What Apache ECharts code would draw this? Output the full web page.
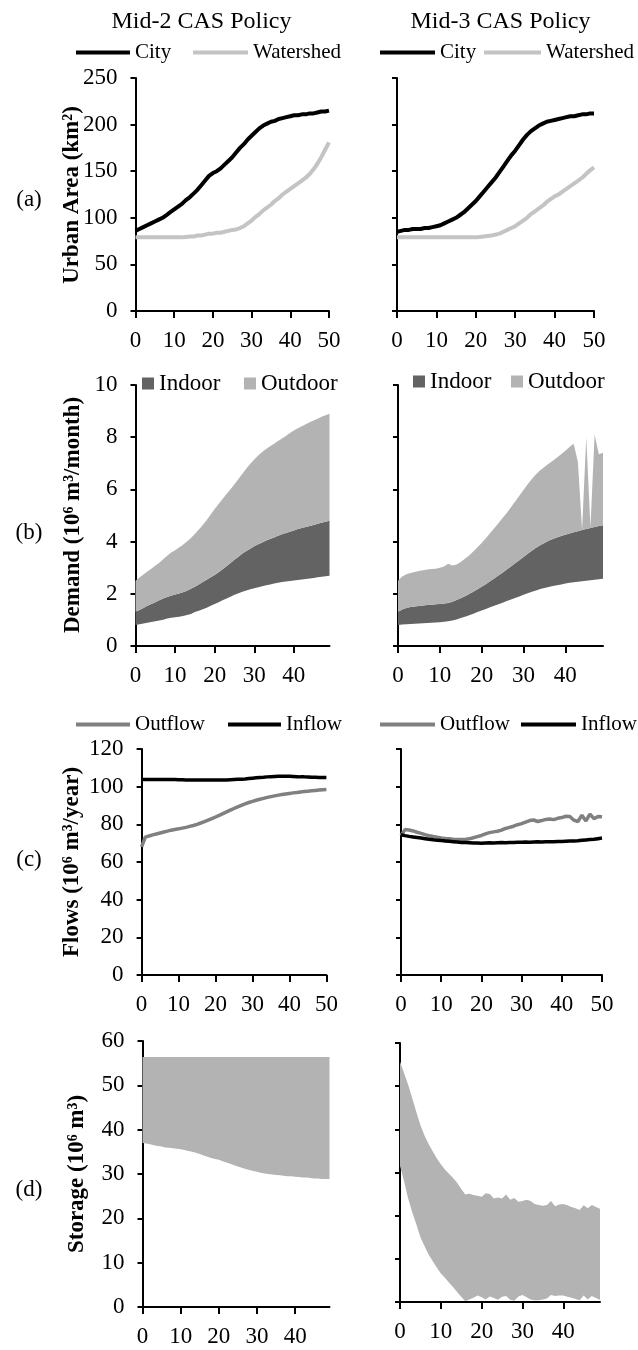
<!DOCTYPE html>
<html><head><meta charset="utf-8">
<script src="https://cdn.jsdelivr.net/npm/echarts@6/dist/echarts.min.js"></script>
<style>html,body{margin:0;padding:0;background:#fff}#c{width:638px;height:1350px}</style>
</head><body><div id="c"></div>
<script>
// ---------- text ----------
const panelTitles = ['Mid-2 CAS Policy', 'Mid-3 CAS Policy'];
const panelLetters = ['(a)', '(b)', '(c)', '(d)'];
const yNames = ['Urban Area (km²)', 'Demand (10⁶ m³/month)', 'Flows (10⁶ m³/year)', 'Storage (10⁶ m³)'];
const years51 = Array.from({length: 51}, (_, i) => String(i));   // year categories 0..50
const years50 = years51.slice(0, 50);                              // year categories 0..49
const yRanges = [[0, 250, 50], [0, 10, 2], [0, 120, 20], [0, 60, 10]];

// ---------- (a) urban area, years 0..50 ----------
const cityL = [86,88,90,92,94,96,98,100,103,106, 109,112,115,119,122,126,130,135,140,145, 148,150,153,157,161,165,170,175,179,184, 188,192,196,199,201,203,204,206,207,208, 209,210,210,211,211,212,212,213,214,214,215];
const watershedL = [79,79,79,79,79,79,79,79,79,79, 79,79,79,79.5,80,80,81,81,82,83, 83,84,84,85,86,87,87.5,89,91,94, 97,101,104,108,111,114,118,121,125,128, 131,134,137,140,143,147,152,158,165,173,181];
const cityR = [85,86,87,87,88,88,88,89,89,90, 91,92,94,96,98,100,103,106,110,114, 118,123,128,133,138,143,149,155,161,167, 172,178,184,189,193,196,199,201,203,204, 205,206,207,208,209,209,210,211,211,212,212];
const watershedR = [79,79,79,79,79,79,79,79,79,79, 79,79,79,79,79,79,79,79,79,79, 79,79.5,80,80.5,81,82,83,85,87,89, 91,94,97,100,104,107,110,113,117,120, 123,125,128,131,134,137,140,143,147,151,154];

// ---------- (b) demand, years 0..49 (band boundaries) ----------
const demandLowL = [0.80,0.83,0.86,0.89,0.92,0.95,0.98,1.01,1.05,1.08, 1.10,1.12,1.15,1.19,1.23,1.30,1.35,1.41,1.47,1.54, 1.61,1.68,1.75,1.82,1.89,1.96,2.02,2.08,2.13,2.17, 2.21,2.25,2.29,2.33,2.36,2.39,2.42,2.45,2.47,2.49, 2.51,2.53,2.55,2.57,2.59,2.61,2.63,2.65,2.67,2.69];
const indoorTopL = [1.30,1.38,1.46,1.54,1.61,1.68,1.75,1.82,1.88,1.93, 1.97,2.01,2.06,2.12,2.19,2.27,2.36,2.45,2.54,2.63, 2.72,2.83,2.94,3.06,3.18,3.30,3.42,3.54,3.64,3.73, 3.82,3.90,3.97,4.04,4.10,4.16,4.22,4.28,4.33,4.38, 4.43,4.48,4.52,4.56,4.60,4.64,4.68,4.72,4.76,4.80];
const outdoorTopL = [2.50,2.62,2.74,2.85,2.96,3.07,3.19,3.32,3.46,3.58, 3.67,3.77,3.88,4.00,4.14,4.29,4.46,4.64,4.83,5.04, 5.25,5.44,5.63,5.82,6.01,6.20,6.40,6.60,6.80,6.98, 7.15,7.30,7.43,7.55,7.65,7.75,7.85,7.95,8.05,8.16, 8.26,8.34,8.42,8.50,8.57,8.64,8.71,8.78,8.84,8.90];
const demandLowR = [0.80,0.82,0.83,0.84,0.85,0.86,0.87,0.88,0.89,0.90, 0.91,0.93,0.95,0.98,1.02,1.07,1.12,1.18,1.24,1.30, 1.36,1.42,1.48,1.54,1.60,1.66,1.72,1.78,1.84,1.90, 1.96,2.02,2.08,2.13,2.18,2.22,2.26,2.30,2.33,2.36, 2.39,2.42,2.44,2.46,2.48,2.50,2.52,2.54,2.56,2.58];
const indoorTopR = [1.30,1.40,1.46,1.49,1.51,1.53,1.55,1.57,1.58,1.60, 1.61,1.63,1.65,1.70,1.76,1.83,1.91,1.99,2.08,2.17, 2.27,2.37,2.48,2.59,2.70,2.81,2.93,3.05,3.17,3.29, 3.41,3.53,3.65,3.76,3.86,3.95,4.03,4.10,4.16,4.21, 4.26,4.31,4.36,4.40,4.44,4.48,4.52,4.56,4.60,4.63];
const outdoorTopR = [2.50,2.66,2.75,2.80,2.84,2.87,2.90,2.93,2.95,2.96, 3.00,3.05,3.15,3.08,3.12,3.22,3.34,3.47,3.62,3.78, 3.95,4.13,4.32,4.51,4.70,4.90,5.10,5.32,5.54,5.76, 5.98,6.20,6.40,6.58,6.73,6.86,6.98,7.10,7.22,7.35, 7.48,7.62,7.75,7.05,4.45,8.00,4.55,8.10,7.35,7.40];

// ---------- (c) flows, years 0..50 ----------
const outflowL = [68.0,73.2,73.8,74.4,74.9,75.4,75.9,76.4,76.9,77.3, 77.6,78.0,78.4,78.9,79.4,80.0,80.7,81.4,82.2,83.0, 83.9,84.8,85.7,86.6,87.5,88.4,89.3,90.1,90.9,91.6, 92.2,92.8,93.3,93.8,94.3,94.7,95.1,95.5,95.8,96.1, 96.4,96.7,96.9,97.2,97.4,97.6,97.8,98.0,98.2,98.4,98.5];
const inflowL = [103.8,103.8,103.8,103.8,103.8,103.8,103.8,103.8,103.8,103.8, 103.7,103.7,103.6,103.6,103.6,103.6,103.6,103.6,103.6,103.6, 103.6,103.6,103.6,103.6,103.7,103.8,103.9,104.0,104.1,104.3, 104.5,104.7,104.9,105.0,105.2,105.3,105.4,105.5,105.5,105.5, 105.5,105.4,105.3,105.2,105.2,105.1,105.0,105.0,104.9,104.9,104.9];
const outflowR = [74.0,77.2,77.0,76.5,75.8,75.2,74.5,74.0,73.5,73.2, 72.8,72.5,72.3,72.1,72.0,71.9,72.0,72.3,72.9,73.5, 74.1,74.9,75.6,76.0,76.3,76.9,77.8,78.4,79.0,79.8, 80.4,81.2,82.0,82.3,81.5,82.0,82.6,82.8,82.5,83.2, 83.6,84.3,84.2,82.2,81.5,84.8,81.8,85.4,83.0,84.2,84.0];
const inflowR = [74.5,74.0,73.6,73.3,73.0,72.7,72.4,72.1,71.8,71.6, 71.4,71.2,71.0,70.8,70.6,70.4,70.3,70.2,70.1,70.1, 70.0,70.1,70.2,70.1,70.2,70.3,70.2,70.4,70.3,70.5, 70.5,70.6,70.5,70.6,70.7,70.6,70.7,70.8,70.8,70.9, 70.9,71.0,71.1,71.2,71.3,71.5,71.7,71.9,72.1,72.4,72.7];

// ---------- (d) storage range, years 0..49 ----------
const storageHighL = [56.4,56.4,56.4,56.4,56.4,56.4,56.4,56.4,56.4,56.4, 56.4,56.4,56.4,56.4,56.4,56.4,56.4,56.4,56.4,56.4, 56.4,56.4,56.4,56.4,56.4,56.4,56.4,56.4,56.4,56.4, 56.4,56.4,56.4,56.4,56.4,56.4,56.4,56.4,56.4,56.4, 56.4,56.4,56.4,56.4,56.4,56.4,56.4,56.4,56.4,56.4];
const storageLowL = [37.0,36.9,36.7,36.5,36.3,36.2,36.0,35.9,35.8,35.7, 35.6,35.4,35.2,35.0,34.8,34.5,34.2,33.9,33.6,33.4, 33.2,32.9,32.6,32.3,32.0,31.7,31.4,31.1,30.9,30.7, 30.5,30.3,30.1,30.0,29.9,29.8,29.7,29.6,29.5,29.5, 29.4,29.3,29.2,29.2,29.1,29.0,29.0,28.9,28.9,28.9];
const storageHighR = [55.7,53.0,50.3,47.2,44.0,41.0,38.6,36.6,34.9,33.3, 31.9,30.7,29.7,28.7,27.6,26.2,24.9,25.1,24.8,24.6, 24.4,25.2,25.0,24.0,24.2,24.0,24.9,23.7,24.1,23.2, 23.4,23.7,23.4,22.7,22.5,22.3,22.5,23.4,22.2,22.6, 22.7,22.4,22.0,21.7,21.3,22.4,21.7,22.5,22.0,21.6];
const storageLowR = [31.5,28.0,24.0,20.8,18.0,15.0,13.0,11.0,9.5,8.0, 6.6,5.6,4.5,3.5,2.3,1.2,0.2,0.6,1.0,1.5, 1.1,0.6,1.3,0.9,0.5,1.2,1.4,0.5,0.3,1.3, 1.6,1.1,0.6,0.4,0.4,0.6,0.8,1.6,1.4,1.5, 1.5,1.2,1.0,0.7,0.4,1.5,0.6,1.4,0.9,0.5];

// ---------- layout & style ----------
const FONT = '"Liberation Serif","Times New Roman",serif';
const C_BLACK = '#000000', C_WATERSHED = '#c4c4c4', C_OUTFLOW = '#808080',
      C_INDOOR = '#636363', C_OUTDOOR = '#b3b3b3', C_STORAGE = '#b3b3b3';

const gridBoxes = [
  {left: 135.5, top: 78, width: 193.5, height: 233},
  {left: 397, top: 78, width: 197, height: 233},
  {left: 135.5, top: 385, width: 194, height: 261},
  {left: 398, top: 385, width: 205, height: 261},
  {left: 141.6, top: 749, width: 184.8, height: 226},
  {left: 401, top: 749, width: 201, height: 226},
  {left: 142.5, top: 1041, width: 187, height: 266},
  {left: 400, top: 1043, width: 200, height: 259}
];

const diff = (top, bot) => top.map((v, i) => Math.max(0, +(v - bot[i]).toFixed(3)));

const grid = gridBoxes.map(g => Object.assign({containLabel: false, outerBoundsMode: 'none'}, g));

const xAxis = gridBoxes.map((g, i) => {
  const panel = i >> 1;
  const full = (panel === 0 || panel === 2);
  return {
    type: 'category', gridIndex: i, data: full ? years51 : years50, boundaryGap: false,
    axisLine: {show: true, onZero: false, lineStyle: {color: '#000', width: 2}},
    axisTick: {show: true, inside: false, length: 7, interval: 9, lineStyle: {color: '#000', width: 2}},
    splitLine: {show: false},
    axisLabel: {show: true, interval: 9, color: '#000', fontFamily: FONT, fontSize: 23, margin: 18, hideOverlap: false}
  };
});

const yAxis = gridBoxes.map((g, i) => {
  const r = yRanges[i >> 1];
  return {
    type: 'value', gridIndex: i, min: r[0], max: r[1], interval: r[2],
    axisLine: {show: true, lineStyle: {color: '#000', width: 2}},
    axisTick: {show: true, inside: false, length: 5, lineStyle: {color: '#000', width: 2}},
    splitLine: {show: false},
    axisLabel: {show: i % 2 === 0, color: '#000', fontFamily: FONT, fontSize: 23, margin: 18, hideOverlap: false}
  };
});

function lineS(name, data, gi, color, w) {
  return {type: 'line', name, data, xAxisIndex: gi, yAxisIndex: gi,
    symbol: 'none', showSymbol: false, color, lineStyle: {color, width: w},
    silent: true, animation: false, clip: true};
}
function areaS(name, data, gi, color, stack, visible) {
  return {type: 'line', name, data, xAxisIndex: gi, yAxisIndex: gi, stack,
    symbol: 'none', showSymbol: false, color: color,
    lineStyle: {width: 0, opacity: 0},
    areaStyle: {color: color, opacity: visible ? 1 : 0},
    silent: true, animation: false, clip: true};
}

const series = [
  lineS('Watershed', watershedL, 0, C_WATERSHED, 4),
  lineS('City', cityL, 0, C_BLACK, 4),
  lineS('Watershed', watershedR, 1, C_WATERSHED, 4),
  lineS('City', cityR, 1, C_BLACK, 4),

  areaS('baseBL', demandLowL, 2, '#ffffff', 'bL', false),
  areaS('Indoor', diff(indoorTopL, demandLowL), 2, C_INDOOR, 'bL', true),
  areaS('Outdoor', diff(outdoorTopL, indoorTopL), 2, C_OUTDOOR, 'bL', true),
  areaS('baseBR', demandLowR, 3, '#ffffff', 'bR', false),
  areaS('Indoor', diff(indoorTopR, demandLowR), 3, C_INDOOR, 'bR', true),
  areaS('Outdoor', diff(outdoorTopR, indoorTopR), 3, C_OUTDOOR, 'bR', true),

  lineS('Outflow', outflowL, 4, C_OUTFLOW, 3.5),
  lineS('Inflow', inflowL, 4, C_BLACK, 3.5),
  lineS('Outflow', outflowR, 5, C_OUTFLOW, 3.5),
  lineS('Inflow', inflowR, 5, C_BLACK, 3.5),

  areaS('baseDL', storageLowL, 6, '#ffffff', 'dL', false),
  areaS('StorageL', diff(storageHighL, storageLowL), 6, C_STORAGE, 'dL', true),
  areaS('baseDR', storageLowR, 7, '#ffffff', 'dR', false),
  areaS('StorageR', diff(storageHighR, storageLowR), 7, C_STORAGE, 'dR', true)
];

function leg(name, left, top, w, h, fs) {
  return {data: [name], left, top, icon: 'rect', itemWidth: w, itemHeight: h,
    padding: 0, itemGap: 0, selectedMode: false,
    textStyle: {fontFamily: FONT, fontSize: fs, color: '#000'}};
}
const legend = [
  leg('City', 76, 42, 54, 4, 21), leg('Watershed', 193, 42, 55, 4, 21),
  leg('City', 380, 42, 55, 4, 21), leg('Watershed', 484, 42, 57, 4, 21),
  leg('Indoor', 142, 372, 12, 12, 23), leg('Outdoor', 244, 372, 12, 12, 23),
  leg('Indoor', 413, 370, 12, 12, 23), leg('Outdoor', 511, 370, 12, 12, 23),
  leg('Outflow', 76, 714, 54, 4, 21), leg('Inflow', 228, 714, 53, 4, 21),
  leg('Outflow', 380, 714, 55, 4, 21), leg('Inflow', 521, 714, 55, 4, 21)
];

function txt(text, x, y, font, rot) {
  return {type: 'text', x, y, rotation: rot || 0, silent: true,
    style: {text, font, fill: '#000', align: 'center', verticalAlign: 'middle',
            textAlign: 'center', textVerticalAlign: 'middle'}};
}
const titleX = [201.5, 500.5];
const letterY = [200, 533, 860, 1190];
const nameX = [72, 73, 72, 77];
const nameY = [195, 515, 862, 1174];
const graphic = [];
panelTitles.forEach((t, i) => graphic.push(txt(t, titleX[i], 22, '24px ' + FONT)));
panelLetters.forEach((t, i) => graphic.push(txt(t, 29, letterY[i], '23px ' + FONT)));
yNames.forEach((t, i) => graphic.push(txt(t, nameX[i], nameY[i], 'bold 23px ' + FONT, Math.PI / 2)));

const chart = echarts.init(document.getElementById('c'), null, {renderer: 'canvas'});
chart.setOption({
  animation: false,
  backgroundColor: '#ffffff',
  grid, xAxis, yAxis, series, legend, graphic
});
</script>
</body></html>
